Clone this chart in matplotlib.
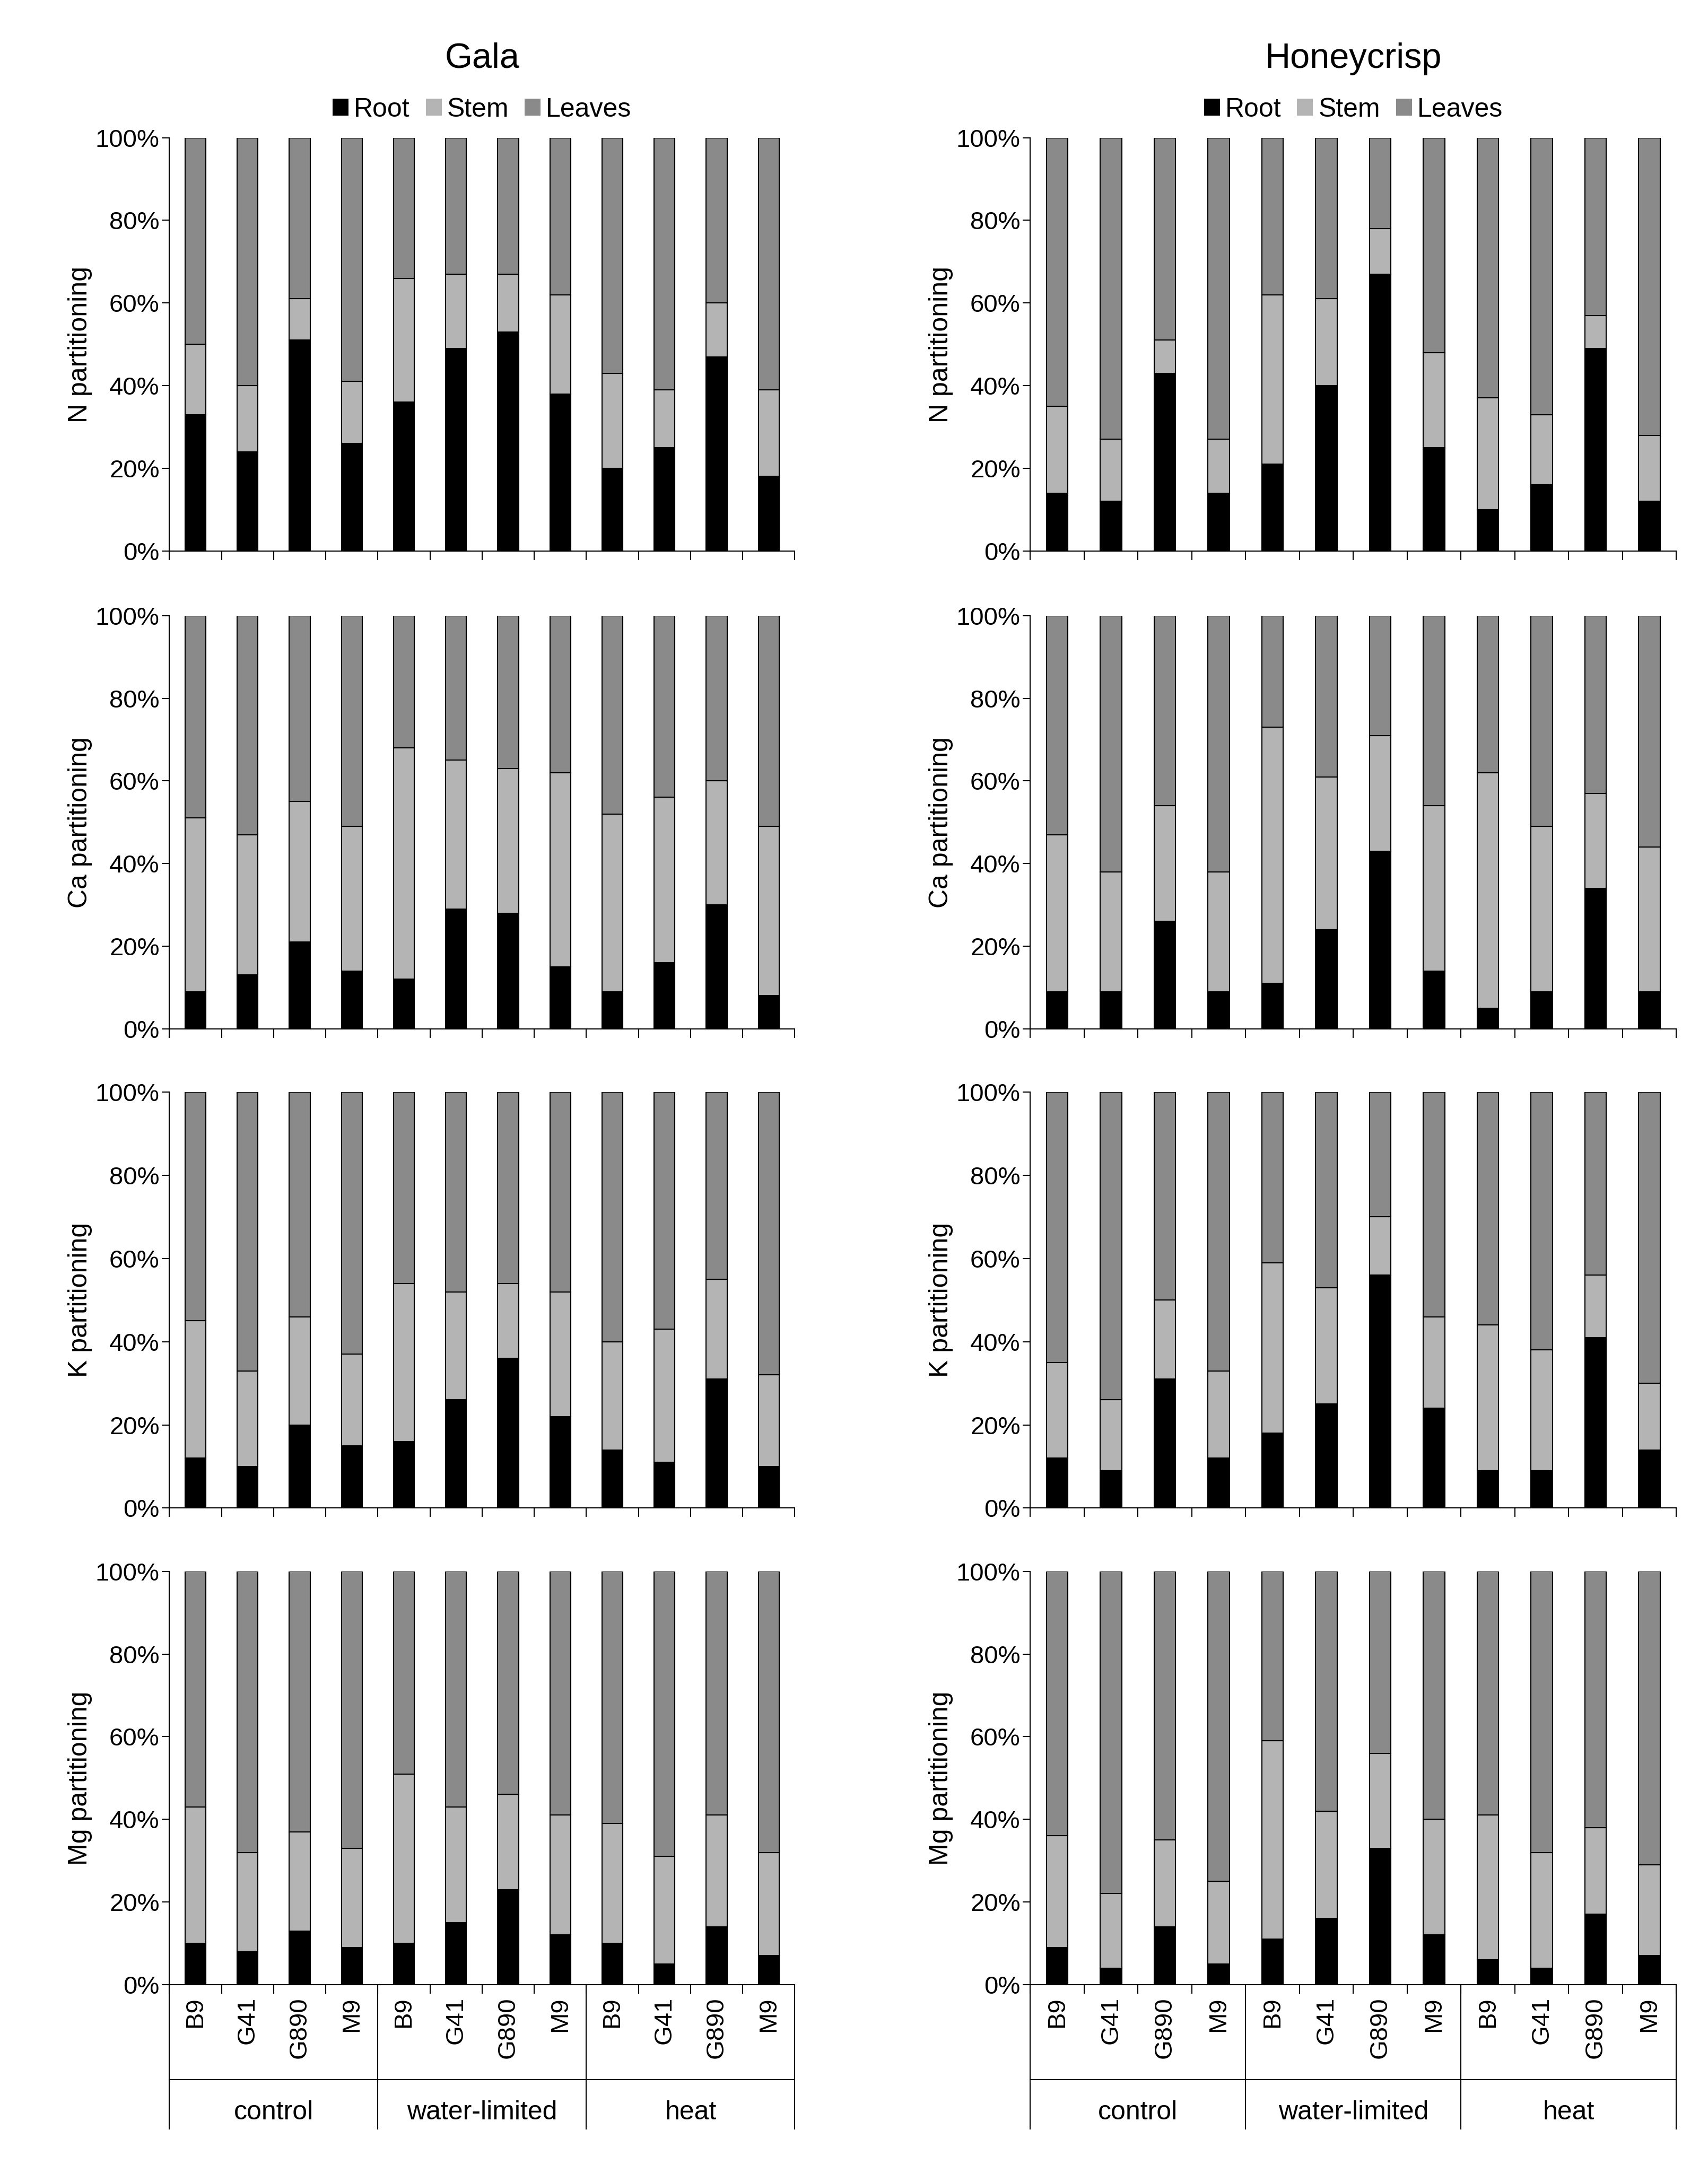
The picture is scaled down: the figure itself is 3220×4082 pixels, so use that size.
import numpy as np
import matplotlib.pyplot as plt
import matplotlib.transforms as mtrans
from matplotlib.patches import Patch

cultivars = ["Gala", "Honeycrisp"]
nutrients = ["N", "Ca", "K", "Mg"]
rootstocks = ["B9", "G41", "G890", "M9"] * 3
treatments = ["control", "water-limited", "heat"]

# root share and root+stem cumulative share (%)
root = {
    ("Gala", "N"): [33, 24, 51, 26, 36, 49, 53, 38, 20, 25, 47, 18],
    ("Gala", "Ca"): [9, 13, 21, 14, 12, 29, 28, 15, 9, 16, 30, 8],
    ("Gala", "K"): [12, 10, 20, 15, 16, 26, 36, 22, 14, 11, 31, 10],
    ("Gala", "Mg"): [10, 8, 13, 9, 10, 15, 23, 12, 10, 5, 14, 7],
    ("Honeycrisp", "N"): [14, 12, 43, 14, 21, 40, 67, 25, 10, 16, 49, 12],
    ("Honeycrisp", "Ca"): [9, 9, 26, 9, 11, 24, 43, 14, 5, 9, 34, 9],
    ("Honeycrisp", "K"): [12, 9, 31, 12, 18, 25, 56, 24, 9, 9, 41, 14],
    ("Honeycrisp", "Mg"): [9, 4, 14, 5, 11, 16, 33, 12, 6, 4, 17, 7],
}
root_stem = {
    ("Gala", "N"): [50, 40, 61, 41, 66, 67, 67, 62, 43, 39, 60, 39],
    ("Gala", "Ca"): [51, 47, 55, 49, 68, 65, 63, 62, 52, 56, 60, 49],
    ("Gala", "K"): [45, 33, 46, 37, 54, 52, 54, 52, 40, 43, 55, 32],
    ("Gala", "Mg"): [43, 32, 37, 33, 51, 43, 46, 41, 39, 31, 41, 32],
    ("Honeycrisp", "N"): [35, 27, 51, 27, 62, 61, 78, 48, 37, 33, 57, 28],
    ("Honeycrisp", "Ca"): [47, 38, 54, 38, 73, 61, 71, 54, 62, 49, 57, 44],
    ("Honeycrisp", "K"): [35, 26, 50, 33, 59, 53, 70, 46, 44, 38, 56, 30],
    ("Honeycrisp", "Mg"): [36, 22, 35, 25, 59, 42, 56, 40, 41, 32, 38, 29],
}

c_root, c_stem, c_leaf = "black", "#b4b4b4", "#8a8a8a"
W, H = 1240.0, 1572.0
fig = plt.figure(figsize=(32.2, 40.82), dpi=100)
plt.rcParams['font.family'] = ['Liberation Sans', 'DejaVu Sans']
lefts = [(123, 577), (748, 1217)]
rows = [(100, 400), (447, 747), (793, 1095), (1141, 1441)]
x = np.arange(12)

for ci, cv in enumerate(cultivars):
    x0, x1 = lefts[ci]
    for ri, nu in enumerate(nutrients):
        y0, y1 = rows[ri]
        ax = fig.add_axes([x0 / W, 1 - y1 / H, (x1 - x0) / W, (y1 - y0) / H])
        r = np.array(root[(cv, nu)])
        rs = np.array(root_stem[(cv, nu)])
        kw = dict(width=0.4, edgecolor="black", linewidth=1.5)
        ax.bar(x, r, color=c_root, **kw)
        ax.bar(x, rs - r, bottom=r, color=c_stem, **kw)
        ax.bar(x, 100 - rs, bottom=rs, color=c_leaf, **kw)
        ax.set_xlim(-0.5, 11.5)
        ax.set_ylim(0, 100)
        ax.set_yticks(range(0, 101, 20))
        ax.set_yticklabels([f"{v}%" for v in range(0, 101, 20)], fontsize=34)
        ax.set_ylabel(f"{nu} partitioning", fontsize=36)
        for s in ["top", "right"]:
            ax.spines[s].set_visible(False)
        ax.spines["left"].set_linewidth(1.5)
        ax.spines["bottom"].set_linewidth(1.5)
        ax.set_xticks(np.arange(-0.5, 12, 1), minor=False)
        ax.set_xticklabels([])
        ax.tick_params(axis="x", length=12, width=1.5, direction="out")
        ax.tick_params(axis="y", length=10, width=1.5, direction="out")
        if ri == 3:
            tr = mtrans.blended_transform_factory(ax.transData, ax.transAxes)
            for i, lab in enumerate(rootstocks):
                ax.text(i, -0.03, lab, rotation=90, ha="center", va="top",
                        fontsize=34, transform=tr)
            for b in [-0.5, 3.5, 7.5, 11.5]:
                ax.plot([b, b], [0, -0.35], color="black", lw=1.5,
                        transform=tr, clip_on=False)
            ax.plot([-0.5, 11.5], [-0.23, -0.23], color="black", lw=1.5,
                    transform=tr, clip_on=False)
            for g, t in enumerate(treatments):
                ax.text(4 * g + 1.5, -0.31, t, ha="center", va="center",
                        fontsize=36, transform=tr)
        if ri == 0:
            ax.set_title(cv, fontsize=48, pad=95)
            handles = [Patch(facecolor=c, edgecolor="none") for c in (c_root, c_stem, c_leaf)]
            ax.legend(handles, ["Root", "Stem", "Leaves"], ncol=3, loc="lower center",
                      bbox_to_anchor=(0.5, 1.0), frameon=False, fontsize=36,
                      handlelength=0.6, handleheight=0.6, handletextpad=0.2,
                      columnspacing=0.6, borderaxespad=0.2)

fig.savefig("out.png", dpi=100)
